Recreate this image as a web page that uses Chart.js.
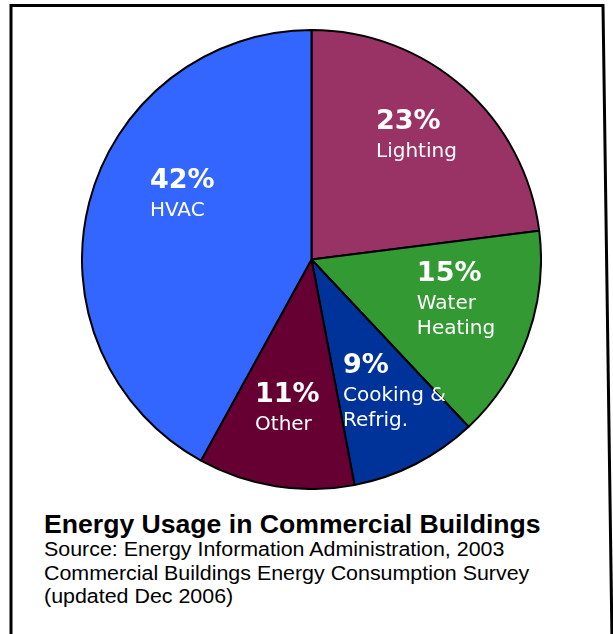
<!DOCTYPE html>
<html>
<head>
<meta charset="utf-8">
<script src="https://cdn.jsdelivr.net/npm/chart.js@4"></script>
<style>
  html, body { margin: 0; padding: 0; background: #fff; width: 613px; height: 634px; overflow: hidden; }
  #frame { position: absolute; left: 0; top: 0; }
  #pieBox { position: absolute; left: 81px; top: 29px; width: 461px; height: 461px; }
  .t { position: absolute; left: 44px; margin: 0; white-space: nowrap; color: #000; font-family: "Liberation Sans", Arial, sans-serif; transform-origin: 0 0; }
  #title { font-weight: bold; font-size: 25px; top: 510px; line-height: 28px; transform: scaleX(1.064); }
  #src { font-size: 20px; top: 538px; line-height: 23.5px; transform: scaleX(1.07); }
</style>
</head>
<body>
<svg id="frame" width="613" height="634">
  <polyline points="11,640 11,5.5 603,5.5 612,640" fill="none" stroke="#000" stroke-width="3"/>
</svg>
<div id="pieBox"><canvas id="c" width="461" height="461"></canvas></div>
<div class="t" id="title">Energy Usage in Commercial Buildings</div>
<div class="t" id="src">Source: Energy Information Administration, 2003<br>Commercial Buildings Energy Consumption Survey<br>(updated Dec 2006)</div>
<script>
// Data (clockwise from 12 o'clock)
const categories = ["Lighting", "Water Heating", "Cooking & Refrig.", "Other", "HVAC"];
const sharePct = [23, 15, 9, 11, 42];
const labelLines = [["Lighting"], ["Water", "Heating"], ["Cooking &", "Refrig."], ["Other"], ["HVAC"]];
const sliceColors = ["#993366", "#339933", "#003399", "#660033", "#3366FF"];

// Label placement (style): offsets from pie centre in units of radius
const labelPos = [
  [0.281, -0.569],
  [0.459, 0.092],
  [0.137, 0.496],
  [-0.246, 0.620],
  [-0.704, -0.310]
];

const insideLabels = {
  id: 'insideLabels',
  afterDatasetsDraw(chart) {
    const ctx = chart.ctx;
    const meta = chart.getDatasetMeta(0);
    meta.data.forEach((arc, i) => {
      const r = arc.outerRadius;
      const x = arc.x + labelPos[i][0] * r;
      const y = arc.y + labelPos[i][1] * r;
      ctx.save();
      ctx.fillStyle = '#fff';
      ctx.textAlign = 'left';
      ctx.textBaseline = 'alphabetic';
      ctx.font = 'bold 27px "DejaVu Sans", Verdana, sans-serif';
      ctx.fillText(sharePct[i] + '%', x, y);
      ctx.font = '20px "DejaVu Sans", Verdana, sans-serif';
      labelLines[i].forEach((ln, k) => ctx.fillText(ln, x, y + 28 + k * 25));
      ctx.restore();
    });
  }
};

new Chart(document.getElementById('c'), {
  type: 'pie',
  data: {
    labels: categories,
    datasets: [{
      data: sharePct,
      backgroundColor: sliceColors,
      borderColor: '#000',
      borderWidth: 2,
      hoverOffset: 0
    }]
  },
  options: {
    responsive: false,
    animation: false,
    devicePixelRatio: 1,
    layout: { padding: 0 },
    plugins: { legend: { display: false }, tooltip: { enabled: false }, title: { display: false } },
    events: []
  },
  plugins: [insideLabels]
});
</script>
</body>
</html>
